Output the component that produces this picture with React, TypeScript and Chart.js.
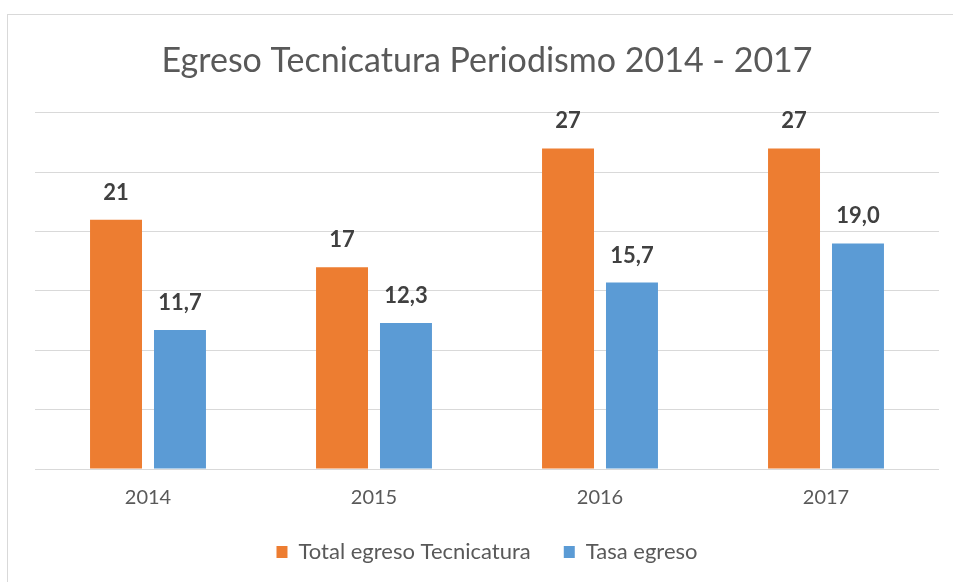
import React, { useEffect, useRef } from "react";
import { Chart, registerables } from "chart.js";

Chart.register(...registerables);

const categories = ["2014", "2015", "2016", "2017"];
const totalEgreso = [21, 17, 27, 27];
const tasaEgreso = [11.7, 12.3, 15.7, 19.0];
const seriesNames = ["Total egreso Tecnicatura", "Tasa egreso"];
const seriesDecimals = [0, 1];
const titleText = "Egreso Tecnicatura Periodismo 2014 - 2017";

const FONT = "Lato";

const frame = {
  id: "frame",
  beforeDraw(chart: any) {
    const ctx = chart.ctx;
    ctx.save();
    ctx.fillStyle = "#ffffff";
    ctx.fillRect(0, 0, chart.width, chart.height);
    ctx.strokeStyle = "#d9d9d9";
    ctx.lineWidth = 1;
    ctx.strokeRect(7.5, 14.5, chart.width + 20, chart.height + 20);
    ctx.restore();
  },
};

const dataLabels = {
  id: "dataLabels",
  afterDatasetsDraw(chart: any) {
    const ctx = chart.ctx;
    ctx.save();
    ctx.font = `bold 22px ${FONT}`;
    ctx.fillStyle = "#404040";
    ctx.textAlign = "center";
    ctx.textBaseline = "alphabetic";
    chart.data.datasets.forEach((ds: any, di: number) => {
      const meta = chart.getDatasetMeta(di);
      meta.data.forEach((bar: any, i: number) => {
        const v = ds.data[i] as number;
        const txt = v.toFixed(seriesDecimals[di]).replace(".", ",");
        ctx.fillText(txt, bar.x, bar.y - 20);
      });
    });
    ctx.restore();
  },
};

export default function App() {
  const ref = useRef<HTMLCanvasElement | null>(null);
  useEffect(() => {
    if (!ref.current) return;
    const chart = new Chart(ref.current, {
      type: "bar",
      data: {
        labels: categories,
        datasets: [
          {
            label: seriesNames[0],
            data: totalEgreso,
            backgroundColor: "#ED7D31",
            categoryPercentage: 0.566,
            barPercentage: 0.8125,
          },
          {
            label: seriesNames[1],
            data: tasaEgreso,
            backgroundColor: "#5B9BD5",
            categoryPercentage: 0.566,
            barPercentage: 0.8125,
          },
        ],
      },
      options: {
        responsive: false,
        animation: false,
        layout: { padding: { left: 35, right: 14, top: 0, bottom: 9 } },
        scales: {
          x: {
            grid: { display: false, drawTicks: false },
            border: { display: false },
            ticks: {
              color: "#595959",
              font: { family: FONT, size: 20, lineHeight: 1 },
              padding: 19,
            },
            afterFit: (axis: any) => {
              axis.height = 39;
            },
          },
          y: {
            min: 0,
            max: 30,
            ticks: { display: false, stepSize: 5 },
            grid: { color: "#d9d9d9", lineWidth: 1, drawTicks: false },
            border: { display: false },
            afterFit: (axis: any) => {
              axis.width = 0;
            },
          },
        },
        plugins: {
          title: {
            display: true,
            text: titleText,
            color: "#595959",
            font: { family: FONT, size: 34, weight: "normal", lineHeight: 1.2 },
            padding: { top: 41, bottom: 31 },
          },
          legend: {
            position: "bottom",
            labels: {
              color: "#595959",
              font: { family: FONT, size: 22, lineHeight: 1 },
              boxWidth: 11,
              boxHeight: 12,
              padding: 33,
            },
          },
          tooltip: { enabled: false },
        },
      },
      plugins: [frame, dataLabels],
    });
    return () => chart.destroy();
  }, []);
  return (
    <div style={{ position: "fixed", left: 0, top: 0, width: 953, height: 582 }}>
      <canvas ref={ref} width={953} height={582} />
    </div>
  );
}
